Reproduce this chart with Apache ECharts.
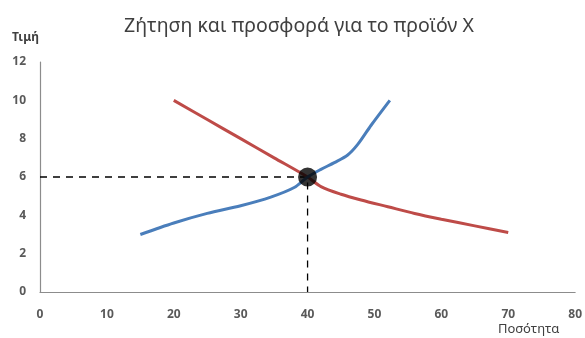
<!DOCTYPE html>
<html>
<head>
<meta charset="utf-8">
<script src="https://cdn.jsdelivr.net/npm/echarts@6/dist/echarts.min.js"></script>
<style>
  html, body { margin: 0; padding: 0; background: #fff; }
  #main { width: 585px; height: 338px; }
</style>
</head>
<body>
<div id="main"></div>
<script>
// δεδομένα του γραφήματος
var titleText = 'Ζήτηση και προσφορά για το προϊόν X';
var yName = 'Τιμή';
var xName = 'Ποσότητα';

// προσφορά (μπλε)
var supply = [[15, 3], [20, 3.6], [25, 4.1], [30, 4.5], [34.5, 4.95], [38, 5.45], [40, 6], [42, 6.4], [44, 6.75], [46, 7.15], [47.5, 7.7], [49.5, 8.7], [52.3, 10]];
// ζήτηση (κόκκινη)
var demand = [[20, 10], [25, 9], [30, 8], [35, 7], [40, 6], [42, 5.5], [45, 5.1], [48, 4.8], [52, 4.45], [56, 4.1], [60, 3.8], [65, 3.45], [70, 3.1]];
// σημείο ισορροπίας
var equilibrium = [[40, 6]];
var guide = [[0, 6], [40, 6], [40, 0]];

var myChart = echarts.init(document.getElementById('main'));

var labelFont = { color: '#595959', fontSize: 12, fontWeight: 'bold', fontFamily: 'Noto Sans' };

var option = {
    animation: false,
    title: {
        text: titleText,
        left: 294,
        top: 11,
        textAlign: 'center',
        textStyle: { fontFamily: 'Noto Sans', fontSize: 19.5, fontWeight: 'normal', color: '#404040' }
    },
    graphic: [
        { type: 'text', left: 12, top: 32, style: { text: yName, fontFamily: 'Noto Sans', fontSize: 12, fontWeight: 'bold', fill: '#404040' } },
        { type: 'text', left: 498, top: 323, style: { text: xName, fontFamily: 'Noto Sans', fontSize: 13, fill: '#404040' } }
    ],
    grid: { left: 40, right: 5, top: 62, bottom: 46 },
    xAxis: {
        type: 'value',
        min: 0, max: 80, interval: 10,
        axisLine: { show: true, lineStyle: { color: '#8c8c8c', width: 1.2 } },
        axisTick: { show: false },
        splitLine: { show: false },
        axisLabel: Object.assign({ margin: 17 }, labelFont)
    },
    yAxis: {
        type: 'value',
        min: 0, max: 12, interval: 2,
        axisLine: { show: true, lineStyle: { color: '#8c8c8c', width: 1.2 } },
        axisTick: { show: false },
        splitLine: { show: false },
        axisLabel: Object.assign({ margin: 14 }, labelFont)
    },
    series: [
        {
            name: 'guide',
            type: 'line',
            data: guide,
            showSymbol: false,
            lineStyle: { color: '#000', width: 1.3, type: [7, 6] },
            z: 1
        },
        {
            name: 'Ζήτηση',
            type: 'line',
            data: demand,
            smooth: 0.3,
            showSymbol: false,
            lineStyle: { color: '#BE4B48', width: 3 },
            z: 2
        },
        {
            name: 'Προσφορά',
            type: 'line',
            data: supply,
            smooth: 0.3,
            showSymbol: false,
            lineStyle: { color: '#4A7EBB', width: 3 },
            z: 3
        },
        {
            name: 'Ισορροπία',
            type: 'scatter',
            data: equilibrium,
            symbolSize: 19,
            itemStyle: { color: '#000' },
            z: 4
        }
    ]
};

myChart.setOption(option);
</script>
</body>
</html>
